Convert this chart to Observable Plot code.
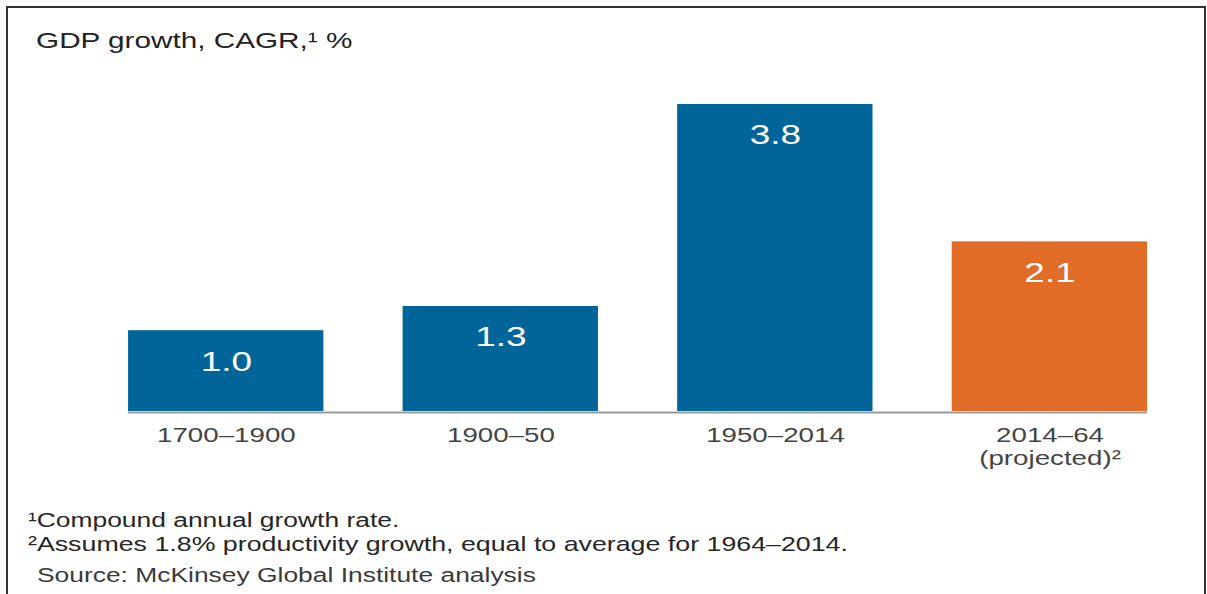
<!DOCTYPE html>
<html>
<head>
<meta charset="utf-8">
<script src="https://cdn.jsdelivr.net/npm/d3@7"></script>
<script src="https://cdn.jsdelivr.net/npm/@observablehq/plot@0.6"></script>
<style>
  html, body { margin: 0; padding: 0; background: #fff; }
  body { width: 1207px; height: 594px; overflow: hidden; position: relative; font-family: "Liberation Sans", Arial, sans-serif; }
  #frame { position: absolute; left: 6px; top: 6px; width: 1200px; height: 600px; border: 2px solid #333; border-bottom: none; box-sizing: border-box; }
  #stage { position: absolute; left: 0; top: 0; width: 914.4px; height: 594px; transform: scaleX(1.32); transform-origin: 0 0; }
  .t { position: absolute; white-space: nowrap; margin: 0; }
  #title { left: 27.3px; top: 30px; font-size: 22.5px; line-height: 22.5px; color: #222; }
  .fn { font-size: 20px; line-height: 20px; color: #262626; }
  #fn1 { left: 21.2px; top: 510.1px; }
  #fn2 { left: 21.2px; top: 534.1px; font-size: 20.3px; }
  #src { left: 28px; top: 565.1px; color: #3a3a3a; }
  #chart { position: absolute; left: 0; top: 0; }
</style>
</head>
<body>
<div id="frame"></div>
<div id="stage">
  <div id="title" class="t">GDP growth, CAGR,¹ %</div>
  <div id="chart"></div>
  <div id="fn1" class="t fn">¹Compound annual growth rate.</div>
  <div id="fn2" class="t fn">²Assumes 1.8% productivity growth, equal to average for 1964–2014.</div>
  <div id="src" class="t fn">Source: McKinsey Global Institute analysis</div>
</div>
<script>
const periods = ["1700–1900", "1900–50", "1950–2014", "2014–64\n(projected)²"];
const growth = [1.0, 1.3, 3.8, 2.1];
const kinds = ["historical", "historical", "historical", "projected"];
const valueLabels = ["1.0", "1.3", "3.8", "2.1"];

const data = periods.map((p, i) => ({period: p, value: growth[i], kind: kinds[i], label: valueLabels[i]}));

const chart = Plot.plot({
  width: 914.4,
  height: 480,
  marginTop: 104,
  marginBottom: 69,
  marginLeft: 97,
  marginRight: 45.5,
  style: {fontFamily: "'Liberation Sans', Arial, sans-serif", background: "transparent", overflow: "visible"},
  x: {domain: periods, paddingInner: 0.29, paddingOuter: 0, label: null},
  y: {domain: [0, 3.8], axis: null},
  color: {domain: ["historical", "projected"], range: ["#02659a", "#e06c27"]},
  marks: [
    Plot.barY(data, {x: "period", y: "value", fill: "kind"}),
    Plot.ruleY([0], {stroke: "#9a9a9a", strokeWidth: 2, dy: 1}),
    Plot.text(data, {x: "period", y: "value", text: "label", fill: "white", fontSize: 28, lineAnchor: "bottom", dy: 40}),
    Plot.axisX({tickSize: 0, tickPadding: 14, fontSize: 21, fill: "#444", lineHeight: 1.1, label: null})
  ]
});
document.getElementById("chart").appendChild(chart);
</script>
</body>
</html>
